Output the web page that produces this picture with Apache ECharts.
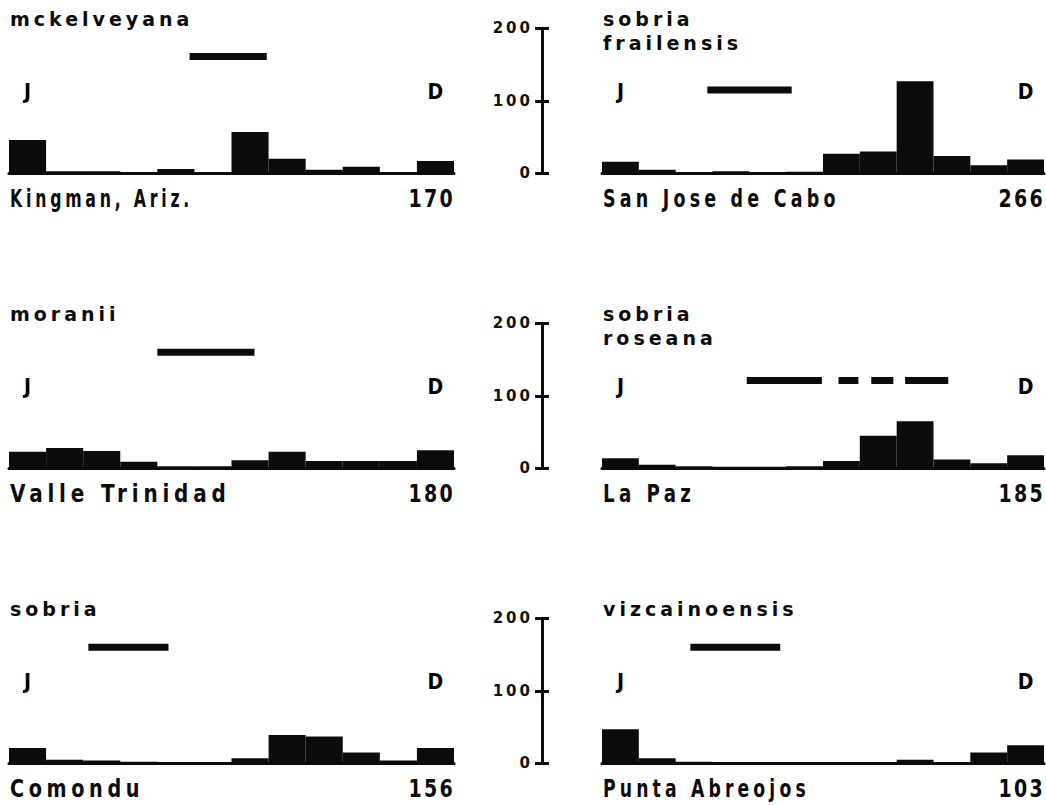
<!DOCTYPE html>
<html><head><meta charset="utf-8">
<script src="https://cdn.jsdelivr.net/npm/echarts@6/dist/echarts.min.js"></script>
<style>
html,body{margin:0;padding:0;background:#fff;}
#c{width:1046px;height:805px;}
text[style*="xttl"]{letter-spacing:4px;}
text[style*="xloc"]{letter-spacing:6px;}
text[style*="xtot"]{letter-spacing:3px;}
text[style*="xaxl"]{letter-spacing:3px;}
</style></head><body><div id="c"></div>
<script>
// ---- data ----
const months = ['J','F','M','A','M','J','J','A','S','O','N','D'];
const titles = ['mckelveyana', 'sobria\nfrailensis', 'moranii', 'sobria\nroseana', 'sobria', 'vizcainoensis'];
const localities = ['Kingman, Ariz.', 'San Jose de Cabo', 'Valle Trinidad', 'La Paz', 'Comondu', 'Punta Abreojos'];
const totals = [170, 266, 180, 185, 156, 103];
const mckelveyana   = [46, 3, 3, 1, 6, 1, 57, 20, 5, 9, 1, 17];
const frailensis    = [16, 5, 1, 3, 1, 2, 27, 30, 127, 24, 11, 19];
const moranii       = [23, 28, 24, 9, 3, 3, 11, 23, 10, 10, 10, 25];
const roseana       = [14, 5, 3, 2, 2, 3, 10, 45, 65, 12, 7, 18];
const sobria        = [21, 5, 4, 2, 1, 1, 7, 39, 37, 15, 4, 21];
const vizcainoensis = [47, 7, 2, 0, 0, 0, 0, 1, 5, 1, 15, 25];
// flowering periods (months elapsed since 1 Jan); several pieces = broken line
const flowerMckelveyana   = [[4.87, 6.95]];
const flowerFrailensis    = [[2.86, 5.15]];
const flowerMoranii       = [[4.0, 6.62]];
const flowerRoseana       = [[3.93, 5.97], [6.42, 6.96], [7.31, 7.91], [8.23, 9.40]];
const flowerSobria        = [[2.14, 4.30]];
const flowerVizcainoensis = [[2.40, 4.84]];
const yTicks = [0, 100, 200];
const endLabels = ['J', 'D'];

// ---- layout / style ----
const panelValues = [mckelveyana, frailensis, moranii, roseana, sobria, vizcainoensis];
const panelFlower = [flowerMckelveyana, flowerFrailensis, flowerMoranii, flowerRoseana, flowerSobria, flowerVizcainoensis];
const flowerLevel = [161, 115, 160, 121, 160, 160];
const locScale = [0.63, 0.70, 0.80, 0.73, 0.77, 0.69];
const labelLevel = 112;
const zeroY = [173.3, 468.3, 763.3];
const gridH = 145;
const colLeft = [9, 602];
const colWidth = [445, 442];
const INK = '#0b0b0b';

const grid = [], xAxis = [], yAxis = [], series = [], graphic = [];
panelValues.forEach(function (vals, p) {
  const row = Math.floor(p / 2), col = p % 2;
  grid.push({ left: colLeft[col], width: colWidth[col], top: zeroY[row] - gridH, height: gridH });
  const xc = xAxis.length;
  xAxis.push({ type: 'category', gridIndex: p, data: months, boundaryGap: true,
    axisLine: { show: true, onZero: true, lineStyle: { color: INK, width: 3 } },
    axisTick: { show: false }, axisLabel: { show: false }, splitLine: { show: false } });
  const xv = xAxis.length;
  xAxis.push({ type: 'value', gridIndex: p, min: 0, max: 12, show: false,
    axisLine: { onZero: false } });
  const y0 = yAxis.length;
  const showY = col === 1;
  yAxis.push({ type: 'value', gridIndex: p, min: yTicks[0], max: yTicks[yTicks.length - 1], interval: 100,
    position: 'left', offset: 60, show: showY,
    axisLine: { show: true, onZero: false, lineStyle: { color: INK, width: 3 } },
    axisTick: { show: true, length: 7, lineStyle: { color: INK, width: 3 } },
    axisLabel: { show: true, margin: 9, color: '#111', fontSize: 15, fontWeight: 'bold',
      fontFamily: "'DejaVu Sans', xaxl, sans-serif" },
    splitLine: { show: false } });
  if (showY) {
    yAxis.push({ type: 'value', gridIndex: p, min: 0, max: 200, interval: 100,
      position: 'left', offset: 60,
      axisLine: { show: false, onZero: false }, axisLabel: { show: false }, splitLine: { show: false },
      axisTick: { show: true, inside: true, length: 7, lineStyle: { color: INK, width: 3 } } });
  }
  series.push({ type: 'bar', xAxisIndex: xc, yAxisIndex: y0, data: vals,
    barCategoryGap: '0%', itemStyle: { color: INK, opacity: 1 }, silent: true });
  panelFlower[p].forEach(function (seg) {
    series.push({ type: 'line', xAxisIndex: xv, yAxisIndex: y0, symbol: 'none', silent: true,
      data: [[seg[0], flowerLevel[p]], [seg[1], flowerLevel[p]]],
      lineStyle: { color: INK, width: 7, cap: 'butt', opacity: 1 } });
  });
  series.push({ type: 'scatter', xAxisIndex: xv, yAxisIndex: y0, symbolSize: 1, silent: true,
    itemStyle: { opacity: 0 },
    data: [{ name: endLabels[0], value: [0.5, labelLevel] }, { name: endLabels[1], value: [11.5, labelLevel] }],
    label: { show: true, position: 'inside', formatter: '{b}', color: '#000', opacity: 1,
      fontSize: 21, fontWeight: 'bold', textBorderWidth: 0,
      fontFamily: "'DejaVu Sans Condensed', 'Liberation Sans Narrow', xjd, sans-serif" } });
  const left = colLeft[col] + 1, right = colLeft[col] + colWidth[col];
  graphic.push({ type: 'text', x: left, y: zeroY[row] - 166, silent: true,
    style: { text: titles[p], fill: INK, font: "bold 19px 'DejaVu Sans', xttl, sans-serif",
      textAlign: 'left', align: 'left', textVerticalAlign: 'top', verticalAlign: 'top', lineHeight: 24 } });
  graphic.push({ type: 'text', x: left, y: zeroY[row] + 25, scaleX: locScale[p], silent: true,
    style: { text: localities[p], fill: INK, font: "bold 25px 'DejaVu Sans', xloc, sans-serif",
      textAlign: 'left', align: 'left', textVerticalAlign: 'middle', verticalAlign: 'middle' } });
  graphic.push({ type: 'text', x: right + 1, y: zeroY[row] + 25, scaleX: 0.76, silent: true,
    style: { text: String(totals[p]), fill: INK, font: "bold 25px 'DejaVu Sans', xtot, sans-serif",
      textAlign: 'right', align: 'right', textVerticalAlign: 'middle', verticalAlign: 'middle' } });
});

const chart = echarts.init(document.getElementById('c'), null, { renderer: 'svg' });
chart.setOption({ backgroundColor: '#fff', animation: false, grid: grid, xAxis: xAxis, yAxis: yAxis,
  series: series, graphic: graphic });
</script></body></html>
